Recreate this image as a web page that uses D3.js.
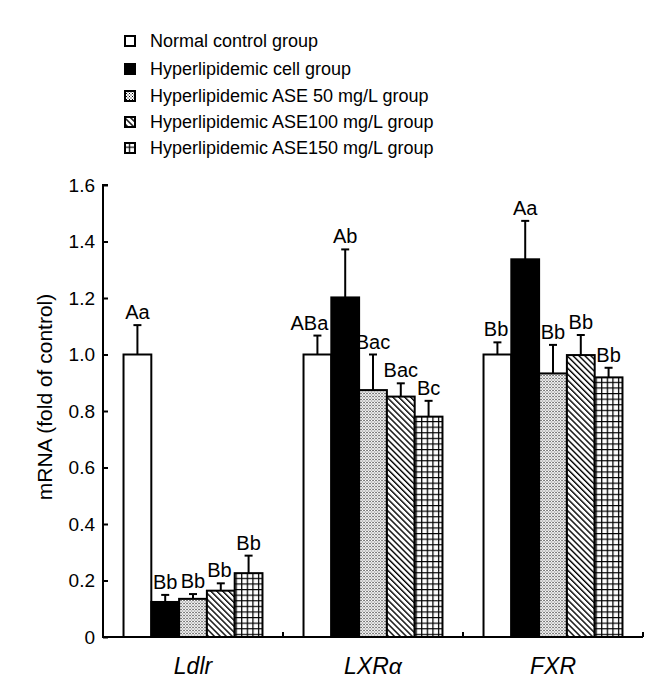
<!DOCTYPE html>
<html>
<head>
<meta charset="utf-8">
<script src="https://cdn.jsdelivr.net/npm/d3@7/dist/d3.min.js"></script>
<style>
  body { margin: 0; background: #fff; }
  svg { display: block; font-family: Arial, "Liberation Sans", sans-serif; }
</style>
</head>
<body>
<svg id="chart" width="663" height="685"></svg>
<script>
const categories = ["Ldlr", "LXRα", "FXR"];
const seriesNames = [
  "Normal control group",
  "Hyperlipidemic cell group",
  "Hyperlipidemic ASE 50 mg/L group",
  "Hyperlipidemic ASE100 mg/L group",
  "Hyperlipidemic ASE150 mg/L group"
];
// values per category, order = series
const ldlrValues = [1.0, 0.124, 0.135, 0.164, 0.226];
const lxrValues  = [1.0, 1.202, 0.874, 0.851, 0.780];
const fxrValues  = [1.0, 1.337, 0.933, 0.998, 0.919];
const ldlrErrors = [0.104, 0.025, 0.017, 0.026, 0.062];
const lxrErrors  = [0.067, 0.170, 0.126, 0.047, 0.056];
const fxrErrors  = [0.043, 0.136, 0.101, 0.071, 0.034];
const ldlrLabels = ["Aa", "Bb", "Bb", "Bb", "Bb"];
const lxrLabels  = ["ABa", "Ab", "Bac", "Bac", "Bc"];
const fxrLabels  = ["Bb", "Aa", "Bb", "Bb", "Bb"];
const yTicks = [0, 0.2, 0.4, 0.6, 0.8, 1.0, 1.2, 1.4, 1.6];
const yTickLabels = ["0", "0.2", "0.4", "0.6", "0.8", "1.0", "1.2", "1.4", "1.6"];
const yTitle = "mRNA (fold of control)";

const valuesByCat = [ldlrValues, lxrValues, fxrValues];
const errorsByCat = [ldlrErrors, lxrErrors, fxrErrors];
const labelsByCat = [ldlrLabels, lxrLabels, fxrLabels];

const svg = d3.select("#chart");
const pLeft = 103, pRight = 643, pTop = 185, pBottom = 637;

// patterns
const defs = svg.append("defs");
const pDot = defs.append("pattern").attr("id", "pDot").attr("patternUnits", "userSpaceOnUse")
  .attr("width", 3).attr("height", 3);
pDot.append("rect").attr("width", 3).attr("height", 3).attr("fill", "#fff");
pDot.append("rect").attr("x", 0).attr("y", 0).attr("width", 1).attr("height", 1).attr("fill", "#000");
pDot.append("rect").attr("x", 1.5).attr("y", 1.5).attr("width", 1).attr("height", 1).attr("fill", "#000");

const pDiag = defs.append("pattern").attr("id", "pDiag").attr("patternUnits", "userSpaceOnUse")
  .attr("width", 4.2).attr("height", 4.2).attr("patternTransform", "rotate(-45)");
pDiag.append("rect").attr("width", 4.2).attr("height", 4.2).attr("fill", "#fff");
pDiag.append("line").attr("x1", 0.7).attr("x2", 0.7).attr("y1", 0).attr("y2", 4.2)
  .attr("stroke", "#000").attr("stroke-width", 1.4);

const pGrid = defs.append("pattern").attr("id", "pGrid").attr("patternUnits", "userSpaceOnUse")
  .attr("width", 5.6).attr("height", 5.6).attr("x", 0).attr("y", 1);
pGrid.append("rect").attr("width", 5.6).attr("height", 5.6).attr("fill", "#fff");
pGrid.append("path").attr("d", "M0.6,0V5.6M0,0.6H5.6").attr("stroke", "#000").attr("stroke-width", 1.3).attr("fill", "none");

const fills = ["#fff", "#000", "url(#pDot)", "url(#pDiag)", "url(#pGrid)"];

// scales
const x0 = d3.scaleBand().domain(categories).range([pLeft, pRight]).paddingInner(0.228).paddingOuter(0.114);
const x1 = d3.scaleBand().domain(d3.range(seriesNames.length)).range([0, x0.bandwidth()]);
const y = d3.scaleLinear().domain([0, 1.6]).range([pBottom, pTop]);

// bars
categories.forEach((cat, ci) => {
  const g = svg.append("g").attr("transform", `translate(${x0(cat)},0)`);
  const vals = valuesByCat[ci], errs = errorsByCat[ci], labs = labelsByCat[ci];
  vals.forEach((v, si) => {
    const bx = x1(si), bw = x1.bandwidth();
    g.append("rect").attr("x", bx).attr("y", y(v)).attr("width", bw).attr("height", y(0) - y(v))
      .attr("fill", fills[si]).attr("stroke", "#000").attr("stroke-width", 2);
  });
  vals.forEach((v, si) => {
    const cx = x1(si) + x1.bandwidth() / 2;
    const et = y(v + errs[si]);
    g.append("line").attr("x1", cx).attr("x2", cx).attr("y1", y(v)).attr("y2", et)
      .attr("stroke", "#000").attr("stroke-width", 2);
    g.append("line").attr("x1", cx - 4).attr("x2", cx + 4).attr("y1", et).attr("y2", et)
      .attr("stroke", "#000").attr("stroke-width", 2);
    const t = g.append("text").attr("x", cx).attr("y", et - 6).attr("text-anchor", "middle")
      .attr("font-size", 20).text(labs[si]);
    // avoid overlap with a taller neighbour on the right
    if (si + 1 < vals.length && y(vals[si + 1]) < et - 6) {
      const w = t.node().getComputedTextLength();
      const maxRight = x1(si + 1) - 3;
      if (cx + w / 2 > maxRight) t.attr("x", maxRight - w / 2);
    }
  });
  svg.append("text").attr("x", x0(cat) + x0.bandwidth() / 2).attr("y", 674)
    .attr("text-anchor", "middle").attr("font-size", 23).attr("font-style", "italic").text(cat);
});

// y axis
const yAxis = d3.axisRight(y).tickValues(yTicks).tickSize(5).tickFormat((d, i) => yTickLabels[i]);
const ya = svg.append("g").attr("transform", `translate(${pLeft},0)`).call(yAxis);
ya.select(".domain").attr("d", `M5,${pTop}H0V${pBottom}`).attr("stroke-width", 2);
ya.selectAll(".tick line").attr("stroke-width", 2);
ya.selectAll(".tick text").attr("x", -8).attr("text-anchor", "end").attr("font-size", 19)
  .attr("font-family", "Arial, 'Liberation Sans', sans-serif").attr("fill", "#000");

// x axis baseline with boundary ticks
const boundaries = categories.map(c => x0(c) + x0.bandwidth() + x0.step() * x0.paddingInner() / 2);
svg.append("line").attr("x1", pLeft - 1).attr("x2", pRight).attr("y1", pBottom).attr("y2", pBottom)
  .attr("stroke", "#000").attr("stroke-width", 2);
svg.selectAll(".xb").data(boundaries).enter().append("line")
  .attr("x1", d => d).attr("x2", d => d).attr("y1", pBottom).attr("y2", pBottom - 5)
  .attr("stroke", "#000").attr("stroke-width", 2);

// y title
svg.append("text").attr("transform", `translate(52,${(pTop + pBottom) / 2 - 14}) rotate(-90)`)
  .attr("text-anchor", "middle").attr("font-size", 21).text(yTitle);

// legend
const legendY = [41, 69, 96, 122, 148];
seriesNames.forEach((name, i) => {
  svg.append("rect").attr("x", 125).attr("y", legendY[i] - 5).attr("width", 10).attr("height", 10)
    .attr("fill", fills[i]).attr("stroke", "#000").attr("stroke-width", 2);
  svg.append("text").attr("x", 150).attr("y", legendY[i]).attr("dy", "0.35em")
    .attr("font-size", 18).text(name);
});
</script>
</body>
</html>
